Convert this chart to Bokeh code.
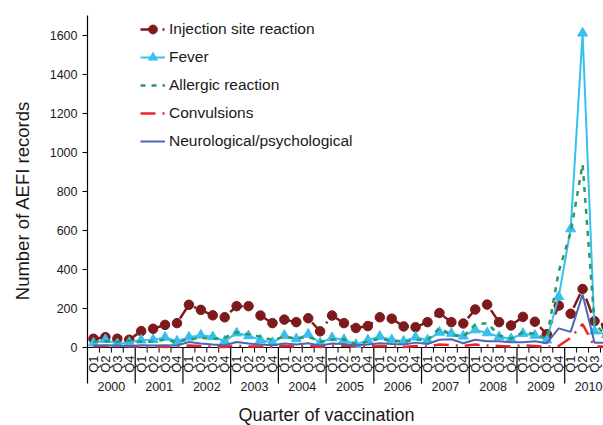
import numpy as np
from bokeh.plotting import figure
from bokeh.models import Range1d, Legend, LegendItem
from bokeh.core.properties import value
from bokeh.embed import file_html
from bokeh.resources import INLINE

years = [str(y) for y in range(2000, 2011)]
quarters = ["Q1", "Q2", "Q3", "Q4"]
yticks = [0, 200, 400, 600, 800, 1000, 1200, 1400, 1600]

injection = [45, 53, 45, 40, 84, 96, 116, 125, 219, 193, 165, 155, 212, 212, 164, 125,
             143, 130, 150, 83, 164, 125, 100, 110, 155, 148, 108, 104, 130, 177, 130, 123,
             195, 220, 130, 113, 157, 132, 68, 215, 173, 300, 135, 110]
fever = [23, 40, 19, 26, 38, 40, 52, 32, 53, 63, 55, 32, 74, 60, 38, 25,
         62, 44, 68, 23, 50, 40, 15, 38, 57, 39, 32, 53, 38, 78, 72, 58,
         90, 75, 55, 45, 72, 62, 38, 261, 608, 1612, 84, 65]
allergic = [30, 32, 28, 35, 30, 32, 40, 28, 42, 50, 45, 50, 78, 68, 55, 38,
            55, 45, 55, 30, 40, 42, 18, 30, 45, 35, 30, 40, 38, 100, 65, 55,
            118, 125, 62, 45, 78, 70, 45, 390, 590, 940, 120, 60]
convulsions = [5, 8, 5, 5, 3, 5, 3, 5, 10, 8, 5, 3, 10, 5, 5, 3,
               8, 5, 8, 3, 8, 10, 5, 5, 8, 5, 3, 8, 5, 15, 12, 8,
               15, 10, 8, 5, 12, 8, 3, 8, 50, 120, 5, 5]
neuro = [10, 12, 10, 8, 12, 10, 12, 10, 28, 20, 15, 12, 28, 20, 15, 12,
         20, 15, 22, 10, 20, 18, 12, 15, 22, 18, 15, 25, 18, 40, 42, 22,
         40, 32, 32, 27, 27, 32, 22, 98, 80, 272, 25, 25]

n = len(injection)
xs = [i + 0.5 for i in range(n)]
FONT = value("Liberation Sans")
TXT = "#1a1a1a"

PXQ = 11.93      # pixels per quarter
PXV = 0.195      # pixels per count
XMIN, XMAX = -87 / PXQ, 516 / PXQ
YMIN, YMAX = -78 / PXV, 347 / PXV
YTOP = 332 / PXV

p = figure(width=603, height=425, output_backend="svg", toolbar_location=None,
           x_range=Range1d(XMIN, XMAX), y_range=Range1d(YMIN, YMAX),
           min_border_left=0, min_border_right=0, min_border_top=0, min_border_bottom=0)
p.axis.visible = False
p.grid.visible = False
p.outline_line_color = None

# value axis
p.segment(x0=[0], y0=[-185], x1=[0], y1=[YTOP], line_color="black", line_width=1.2)
p.segment(x0=[0] * len(yticks), y0=yticks, x1=[-5 / PXQ] * len(yticks), y1=yticks,
          line_color="black", line_width=1)
p.text(x=[-10 / PXQ] * len(yticks), y=yticks, text=[str(t) for t in yticks],
       text_align="right", text_baseline="middle", text_font=FONT,
       text_font_size="12.5px", text_color=TXT)
p.text(x=[-65 / PXQ], y=[147 / PXV], text=["Number of AEFI records"], angle=np.pi / 2,
       text_align="center", text_baseline="middle", text_font=FONT,
       text_font_size="18.5px", text_color=TXT)

# category axis
p.segment(x0=[0], y0=[0], x1=[XMAX], y1=[0], line_color="black", line_width=1.2)
ybounds = [4 * k for k in range(1, len(years) + 1)]
p.segment(x0=ybounds, y0=[0] * len(ybounds), x1=ybounds, y1=[-185] * len(ybounds),
          line_color="black", line_width=1.2)
qb = [k for k in range(1, 4 * len(years)) if k % 4 != 0]
p.segment(x0=qb, y0=[0] * len(qb), x1=qb, y1=[-26] * len(qb), line_color="black", line_width=1)

qlabels = [quarters[i % 4] for i in range(4 * len(years)) if i + 0.5 < XMAX - 0.4]
qx = [i + 0.5 for i in range(4 * len(years)) if i + 0.5 < XMAX - 0.4]
p.text(x=qx, y=[-41] * len(qx), text=qlabels, angle=np.pi / 2, text_align="right",
       text_baseline="middle", text_font=FONT, text_font_size="13px", text_color=TXT)
yx = [4 * k + 2 for k in range(len(years))]
p.text(x=yx, y=[-200] * len(yx), text=years, text_align="center", text_baseline="middle",
       text_font=FONT, text_font_size="12.5px", text_color=TXT)
p.text(x=[20.03], y=[-347], text=["Quarter of vaccination"], text_align="center",
       text_baseline="middle", text_font=FONT, text_font_size="18px", text_color=TXT)

c_inj = "#7D1A1D"
c_fev = "#36C0EF"
c_all = "#2F9860"
c_con = "#EE2228"
c_neu = "#4A66B4"

r1 = p.line(xs, injection, line_color=c_inj, line_width=2.5, line_dash="15 7 2 7")
r1m = p.scatter(xs, injection, marker="circle", size=9.5, fill_color=c_inj, line_color=c_inj)
r2 = p.line(xs, fever, line_color=c_fev, line_width=2)
r2m = p.scatter(xs, fever, marker="triangle", size=10, fill_color=c_fev, line_color=c_fev)
r3 = p.line(xs, allergic, line_color=c_all, line_width=2.5, line_dash="5 6")
r4 = p.line(xs, convulsions, line_color=c_con, line_width=2.5, line_dash="15 7 2 7")
r5 = p.line(xs, neuro, line_color=c_neu, line_width=2)

legend = Legend(items=[
    LegendItem(label="Injection site reaction", renderers=[r1, r1m]),
    LegendItem(label="Fever", renderers=[r2, r2m]),
    LegendItem(label="Allergic reaction", renderers=[r3]),
    LegendItem(label="Convulsions", renderers=[r4]),
    LegendItem(label="Neurological/psychological", renderers=[r5]),
], location=(140, 273))
legend.border_line_color = None
legend.background_fill_alpha = 0
legend.padding = 0
legend.margin = 0
legend.spacing = 6
legend.glyph_width = 25
legend.glyph_height = 22
legend.label_height = 22
legend.label_standoff = 4
legend.label_text_font = "Liberation Sans"
legend.label_text_font_size = "15.5px"
legend.label_text_color = TXT
p.add_layout(legend, "center")

open("out.html", "w").write(file_html(p, INLINE))
